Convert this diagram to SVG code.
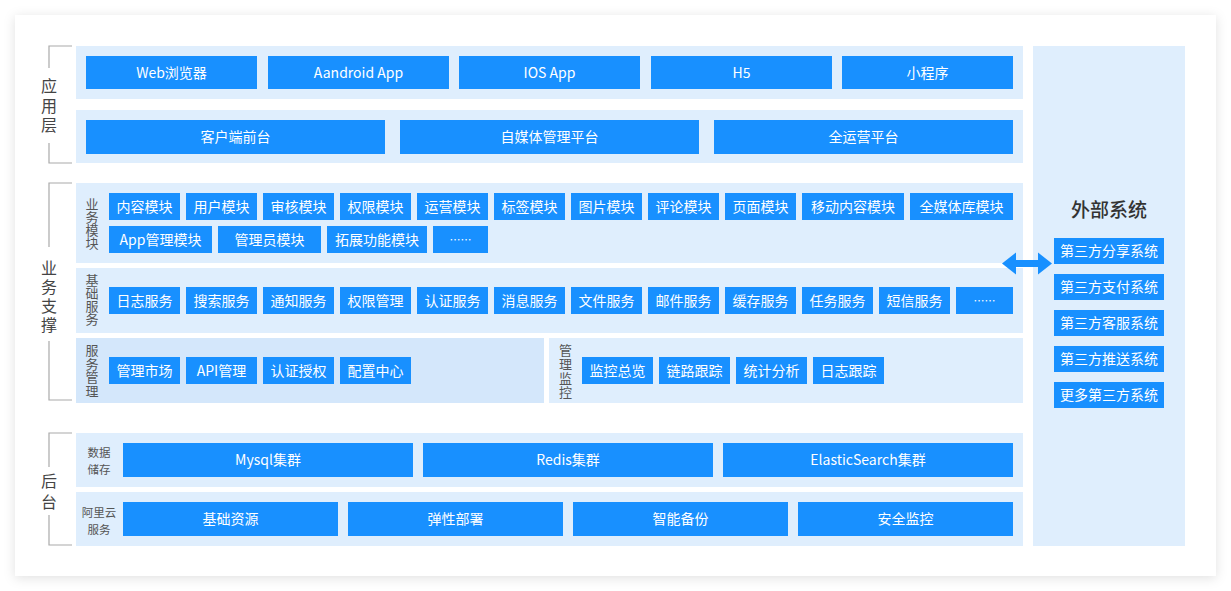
<svg xmlns="http://www.w3.org/2000/svg" width="1231" height="591" viewBox="0 0 1231 591">
<defs>
<filter id="sh" x="-5%" y="-5%" width="110%" height="115%">
<feDropShadow dx="0" dy="2" stdDeviation="6" flood-color="#000" flood-opacity="0.12"/>
</filter>
<style>
.bg{fill:#dfeefd}
.bg2{fill:#d4e7fb}
.b{fill:#1890ff}
.t{font-family:"Noto Sans CJK SC","Liberation Sans",sans-serif;font-size:14px;fill:#fff;text-anchor:middle;dominant-baseline:central;transform:translate(0px,-1px)}
.l{font-family:"Noto Sans CJK SC","Liberation Sans",sans-serif;font-size:11.5px;fill:#555;text-anchor:middle;dominant-baseline:central}
.v{font-family:"Noto Sans CJK SC","Liberation Sans",sans-serif;font-size:13px;fill:#555;text-anchor:middle;writing-mode:vertical-rl;text-orientation:upright}
.V{font-family:"Noto Sans CJK SC","Liberation Sans",sans-serif;font-size:16px;fill:#444;text-anchor:middle;writing-mode:vertical-rl;text-orientation:upright}
.br{fill:none;stroke:#aaa;stroke-width:1.2}
</style>
</defs>
<rect width="1231" height="591" fill="#fff"/>
<rect x="15" y="15" width="1201" height="561" fill="#fff" filter="url(#sh)"/>

<g id="brackets">
<path class="br" d="M72,46 H49 V68 M49,143 V163 H72"/>
<text class="V" x="49" y="107.5" style="letter-spacing:3.5px">应用层</text>
<path class="br" d="M72,183 H49 V247 M49,341 V400 H72"/>
<text class="V" x="49" y="297.5" style="letter-spacing:3px">业务支撑</text>
<path class="br" d="M72,433 H49 V467 M49,515 V545 H72"/>
<text class="V" x="49" y="494" style="letter-spacing:5px">后台</text>
</g>

<g id="app-clients">
<rect class="bg" x="76" y="46" width="947" height="53"/>
<rect class="b" x="86" y="56" width="171" height="33"/><text class="t" x="171.5" y="72.5">Web浏览器</text>
<rect class="b" x="268" y="56" width="181" height="33"/><text class="t" x="358.5" y="72.5">Aandroid App</text>
<rect class="b" x="459" y="56" width="181" height="33"/><text class="t" x="549.5" y="72.5">IOS App</text>
<rect class="b" x="651" y="56" width="181" height="33"/><text class="t" x="741.5" y="72.5">H5</text>
<rect class="b" x="842" y="56" width="171" height="33"/><text class="t" x="927.5" y="72.5">小程序</text>
</g>

<g id="app-platforms">
<rect class="bg" x="76" y="110" width="947" height="53"/>
<rect class="b" x="86" y="120" width="299" height="34"/><text class="t" x="235.5" y="137">客户端前台</text>
<rect class="b" x="400" y="120" width="299" height="34"/><text class="t" x="549.5" y="137">自媒体管理平台</text>
<rect class="b" x="714" y="120" width="299" height="34"/><text class="t" x="863.5" y="137">全运营平台</text>
</g>

<g id="biz-modules">
<rect class="bg" x="76" y="183" width="947" height="80"/>
<text class="v" x="92" y="223.5">业务模块</text>
<rect class="b" x="109" y="193" width="71" height="27"/><text class="t" x="144.5" y="206.5">内容模块</text>
<rect class="b" x="186" y="193" width="71" height="27"/><text class="t" x="221.5" y="206.5">用户模块</text>
<rect class="b" x="263" y="193" width="71" height="27"/><text class="t" x="298.5" y="206.5">审核模块</text>
<rect class="b" x="340" y="193" width="71" height="27"/><text class="t" x="375.5" y="206.5">权限模块</text>
<rect class="b" x="417" y="193" width="71" height="27"/><text class="t" x="452.5" y="206.5">运营模块</text>
<rect class="b" x="494" y="193" width="71" height="27"/><text class="t" x="529.5" y="206.5">标签模块</text>
<rect class="b" x="571" y="193" width="71" height="27"/><text class="t" x="606.5" y="206.5">图片模块</text>
<rect class="b" x="648" y="193" width="71" height="27"/><text class="t" x="683.5" y="206.5">评论模块</text>
<rect class="b" x="725" y="193" width="71" height="27"/><text class="t" x="760.5" y="206.5">页面模块</text>
<rect class="b" x="802" y="193" width="102" height="27"/><text class="t" x="853" y="206.5">移动内容模块</text>
<rect class="b" x="910" y="193" width="103" height="27"/><text class="t" x="961.5" y="206.5">全媒体库模块</text>
<rect class="b" x="109" y="226" width="103" height="27"/><text class="t" x="160.5" y="239.5">App管理模块</text>
<rect class="b" x="218" y="226" width="103" height="27"/><text class="t" x="269.5" y="239.5">管理员模块</text>
<rect class="b" x="327" y="226" width="100" height="27"/><text class="t" x="377" y="239.5">拓展功能模块</text>
<rect class="b" x="433" y="226" width="55" height="27"/><text class="t" x="460.5" y="239.5" style="font-size:11px">……</text>
</g>

<g id="base-services">
<rect class="bg" x="76" y="268" width="947" height="65"/>
<text class="v" x="92" y="300">基础服务</text>
<rect class="b" x="109" y="287" width="71" height="27"/><text class="t" x="144.5" y="300.5">日志服务</text>
<rect class="b" x="186" y="287" width="71" height="27"/><text class="t" x="221.5" y="300.5">搜索服务</text>
<rect class="b" x="263" y="287" width="71" height="27"/><text class="t" x="298.5" y="300.5">通知服务</text>
<rect class="b" x="340" y="287" width="71" height="27"/><text class="t" x="375.5" y="300.5">权限管理</text>
<rect class="b" x="417" y="287" width="71" height="27"/><text class="t" x="452.5" y="300.5">认证服务</text>
<rect class="b" x="494" y="287" width="71" height="27"/><text class="t" x="529.5" y="300.5">消息服务</text>
<rect class="b" x="571" y="287" width="71" height="27"/><text class="t" x="606.5" y="300.5">文件服务</text>
<rect class="b" x="648" y="287" width="71" height="27"/><text class="t" x="683.5" y="300.5">邮件服务</text>
<rect class="b" x="725" y="287" width="71" height="27"/><text class="t" x="760.5" y="300.5">缓存服务</text>
<rect class="b" x="802" y="287" width="71" height="27"/><text class="t" x="837.5" y="300.5">任务服务</text>
<rect class="b" x="879" y="287" width="71" height="27"/><text class="t" x="914.5" y="300.5">短信服务</text>
<rect class="b" x="956" y="287" width="57" height="27"/><text class="t" x="984.5" y="300.5" style="font-size:11px">……</text>
</g>

<g id="service-mgmt">
<rect class="bg2" x="76" y="338" width="468" height="65"/>
<text class="v" x="92" y="371" style="letter-spacing:0.5px">服务管理</text>
<rect class="b" x="109" y="357" width="71" height="27"/><text class="t" x="144.5" y="370.5">管理市场</text>
<rect class="b" x="186" y="357" width="71" height="27"/><text class="t" x="221.5" y="370.5">API管理</text>
<rect class="b" x="263" y="357" width="71" height="27"/><text class="t" x="298.5" y="370.5">认证授权</text>
<rect class="b" x="340" y="357" width="71" height="27"/><text class="t" x="375.5" y="370.5">配置中心</text>
</g>

<g id="mgmt-monitor">
<rect class="bg" x="549" y="338" width="474" height="65"/>
<text class="v" x="565.5" y="371.5" style="letter-spacing:1px">管理监控</text>
<rect class="b" x="582" y="357" width="71" height="27"/><text class="t" x="617.5" y="370.5">监控总览</text>
<rect class="b" x="659" y="357" width="71" height="27"/><text class="t" x="694.5" y="370.5">链路跟踪</text>
<rect class="b" x="736" y="357" width="71" height="27"/><text class="t" x="771.5" y="370.5">统计分析</text>
<rect class="b" x="813" y="357" width="71" height="27"/><text class="t" x="848.5" y="370.5">日志跟踪</text>
</g>

<g id="data-storage">
<rect class="bg" x="76" y="433" width="947" height="54"/>
<text class="l" x="99" y="451.5">数据</text>
<text class="l" x="99" y="468.5">储存</text>
<rect class="b" x="123" y="443" width="290" height="34"/><text class="t" x="268" y="460">Mysql集群</text>
<rect class="b" x="423" y="443" width="290" height="34"/><text class="t" x="568" y="460">Redis集群</text>
<rect class="b" x="723" y="443" width="290" height="34"/><text class="t" x="868" y="460">ElasticSearch集群</text>
</g>

<g id="aliyun">
<rect class="bg" x="76" y="492" width="947" height="54"/>
<text class="l" x="99" y="511.5">阿里云</text>
<text class="l" x="99" y="528.5">服务</text>
<rect class="b" x="123" y="502" width="215" height="34"/><text class="t" x="230.5" y="519">基础资源</text>
<rect class="b" x="348" y="502" width="215" height="34"/><text class="t" x="455.5" y="519">弹性部署</text>
<rect class="b" x="573" y="502" width="215" height="34"/><text class="t" x="680.5" y="519">智能备份</text>
<rect class="b" x="798" y="502" width="215" height="34"/><text class="t" x="905.5" y="519">安全监控</text>
</g>

<g id="external">
<rect class="bg" x="1033" y="46" width="152" height="500"/>
<text x="1109" y="208" style="font-family:'Noto Sans CJK SC','Liberation Sans',sans-serif;font-size:19px;font-weight:500;fill:#333;text-anchor:middle;dominant-baseline:central">外部系统</text>
<rect class="b" x="1054" y="238" width="110" height="26"/><text class="t" x="1109" y="251">第三方分享系统</text>
<rect class="b" x="1054" y="274" width="110" height="26"/><text class="t" x="1109" y="287">第三方支付系统</text>
<rect class="b" x="1054" y="310" width="110" height="26"/><text class="t" x="1109" y="323">第三方客服系统</text>
<rect class="b" x="1054" y="346" width="110" height="26"/><text class="t" x="1109" y="359">第三方推送系统</text>
<rect class="b" x="1054" y="382" width="110" height="26"/><text class="t" x="1109" y="395">更多第三方系统</text>
</g>

<g id="connectors">
<polygon fill="#1890ff" points="1002,263.5 1016,252.5 1016,260 1038,260 1038,252.5 1052,263.5 1038,274.5 1038,267 1016,267 1016,274.5"/>
</g>
</svg>
